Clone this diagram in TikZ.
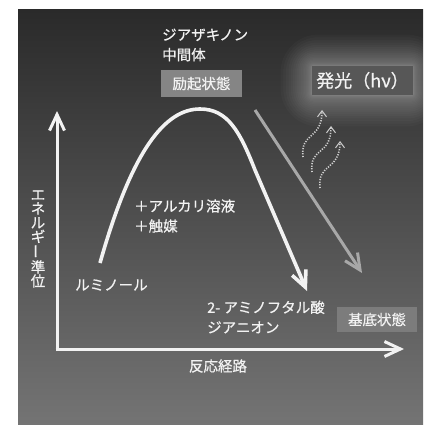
\documentclass[tikz,border=0pt]{standalone}
\usepackage{fontspec}
\setmainfont{Noto Sans CJK JP}[FakeBold=0.6]
\usetikzlibrary{arrows.meta}
\definecolor{bgtop}{HTML}{2A2A2A}
\definecolor{bgbot}{HTML}{747474}
\definecolor{txt}{HTML}{F2F2F2}
\definecolor{boxA}{HTML}{858585}
\definecolor{boxB}{HTML}{575757}
\definecolor{boxC}{HTML}{7C7C7C}
\definecolor{grayarrow}{HTML}{A8A8A8}
\tikzset{
  lbl/.style={text=txt, inner sep=0pt, font=\fontsize{14.5}{20}\selectfont},
  statebox/.style={text=txt, inner sep=0pt, font=\fontsize{14.5}{16}\selectfont},
  barb/.style={-{Straight Barb[length=16pt,width=15pt]}},
  axis/.style={draw=txt, line width=3pt, barb},
  mainpath/.style={draw=txt, line width=3.6pt, barb},
  grayline/.style={draw=grayarrow, line width=3pt, barb},
  wavy/.style={draw=txt!85!black, line width=1.6pt, dash pattern=on 1.2pt off 1.4pt,
    -{Straight Barb[length=6pt,width=9pt,line width=1pt]}}
}
\begin{document}
\begin{tikzpicture}[x=1pt,y=-1pt]
\useasboundingbox (0,0) rectangle (423,425);
\fill[white] (0,0) rectangle (423,425);
\shade[top color=bgtop,bottom color=bgbot] (18,10) rectangle (423,425);

% glow around the emission box
\begin{scope}
\clip (18,10) rectangle (423,425);
\foreach \i in {1,...,22}{
  \pgfmathsetmacro{\e}{0.065*\i*\i}
  \fill[white,opacity=0.024,rounded corners={1.2*\e pt+0.5pt}] ({312-\e},{66-\e}) rectangle ({413+\e},{95+\e});
}
\end{scope}

% axes
\coordinate (origin) at (57,349);
\coordinate (ytip) at (57,111);
\coordinate (xtip) at (404,349);
\draw[axis] (57,351) -- (ytip);
\draw[axis] (55.5,349) -- (xtip);

% axis labels
\node[lbl, align=center, font=\fontsize{14.5}{14}\selectfont] (ylabel) at (38,239)
  {エ\\ネ\\ル\\ギ\\\rotatebox{90}{ー}\\準\\位};
\node[lbl] (xlabel) at (218,366) {反応経路};

% reaction curve
\coordinate (start) at (100,263);
\coordinate (peak) at (200,109);
\coordinate (bend) at (255,170);
\coordinate (endp) at (307,291);
\draw[mainpath] (start) .. controls (132,150) and (165,109) .. (peak)
  .. controls (228,109) and (240,132) .. (bend) -- (endp);

% gray emission arrow
\coordinate (gs) at (255,110);
\coordinate (ge) at (362,273);
\draw[grayline] (gs) -- (ge);

% wavy light arrows
\coordinate (w1s) at (303,157);
\coordinate (w1e) at (322,110);
\coordinate (w2s) at (312,172);
\coordinate (w2e) at (331,126);
\coordinate (w3s) at (320,188);
\coordinate (w3e) at (340,141);
\draw[wavy] (w1s) .. controls (300,132) and (322,140) .. (w1e);
\draw[wavy] (w2s) .. controls (309,147) and (331,156) .. (w2e);
\draw[wavy] (w3s) .. controls (317,163) and (340,171) .. (w3e);

% texts
\node[lbl, align=left, anchor=west] (inter) at (162,45) {ジアザキノン\\中間体};
\node[lbl, align=left, anchor=west] (reag) at (134,216) {＋アルカリ溶液\\＋触媒};
\node[lbl, anchor=west] (lumi) at (75,285) {ルミノール};
\node[lbl, align=left, anchor=west] (prod) at (207,317) {2- アミノフタル酸\\ジアニオン};

% state boxes
\fill[boxA] (161,70) rectangle (242,97);
\node[statebox] (excited) at (201.5,83.5) {励起状態};
\fill[boxB] (312,66) rectangle (413,95);
\node[statebox, font=\fontsize{18}{19}\selectfont] (emit) at (362.5,80.5) {発光（hν）};
\fill[boxC] (337,307) rectangle (417,332);
\node[statebox] (ground) at (377,319.5) {基底状態};
\end{tikzpicture}
\end{document}
